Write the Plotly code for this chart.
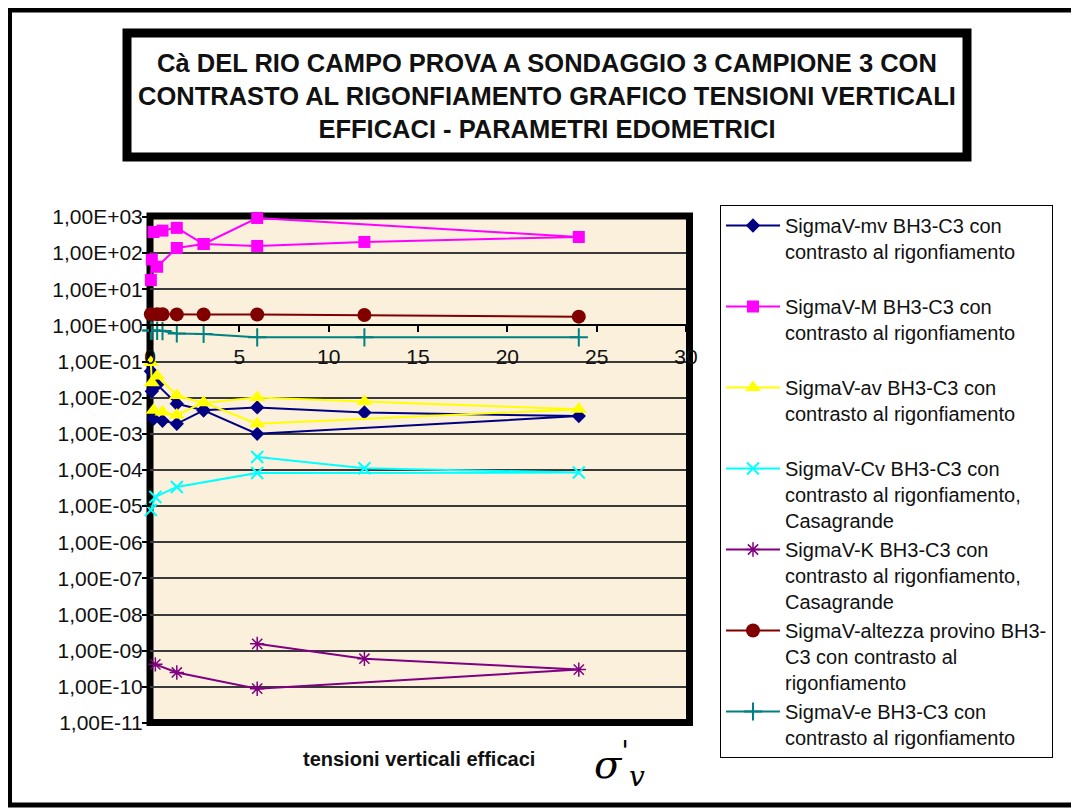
import plotly.graph_objects as go

# ---------------- data ----------------
Y_TICK_VALS = [1e3, 1e2, 1e1, 1e0, 1e-1, 1e-2, 1e-3, 1e-4, 1e-5, 1e-6, 1e-7, 1e-8, 1e-9, 1e-10, 1e-11]
Y_TICK_TEXT = ["1,00E+03", "1,00E+02", "1,00E+01", "1,00E+00", "1,00E-01", "1,00E-02",
               "1,00E-03", "1,00E-04", "1,00E-05", "1,00E-06", "1,00E-07", "1,00E-08",
               "1,00E-09", "1,00E-10", "1,00E-11"]
X_TICK_VALS = [0, 5, 10, 15, 20, 25, 30]

# load steps (loading then unloading) for mv, M, av
X_EDO = [0.05, 0.1, 0.4, 1.5, 3, 6, 12, 24, 6, 3, 1.5, 0.7, 0.2]
MV = [0.054, 0.015, 0.023, 0.0068, 0.0045, 0.0054, 0.0039, 0.0031, 0.00100, 0.0045, 0.0019, 0.0023, 0.0026]
M_EDO = [18, 67, 42, 139, 179, 158, 204, 280, 940, 179, 500, 420, 385]
AV = [0.095, 0.026, 0.04, 0.0115, 0.0072, 0.0102, 0.0078, 0.0048, 0.0019, 0.0074, 0.0033, 0.0040, 0.0045]

X_CV = [6, 12, 24, 6, 1.5, 0.3, 0.05]
CV = [2.3e-4, 1.12e-4, 8.5e-5, 8.3e-5, 3.4e-5, 1.8e-5, 7.8e-6]

X_K = [6, 12, 24, 6, 1.5, 0.3]
K = [1.55e-9, 6.0e-10, 3.0e-10, 8.9e-11, 2.5e-10, 4.2e-10]

X_H = [0.05, 0.4, 0.7, 1.5, 3, 6, 12, 24]
H_PROV = [2.04, 2.03, 2.03, 2.02, 2.02, 2.01, 1.94, 1.75]

X_E = [0.05, 0.1, 0.4, 0.7, 1.5, 3, 6, 12, 24]
E_VAL = [0.72, 0.72, 0.71, 0.70, 0.60, 0.58, 0.47, 0.47, 0.47]

NAMES = [
    "SigmaV-mv BH3-C3 con<br>contrasto al rigonfiamento<br>&nbsp;",
    "SigmaV-M BH3-C3 con<br>contrasto al rigonfiamento<br>&nbsp;",
    "SigmaV-av BH3-C3 con<br>contrasto al rigonfiamento<br>&nbsp;",
    "SigmaV-Cv BH3-C3 con<br>contrasto al rigonfiamento,<br>Casagrande",
    "SigmaV-K BH3-C3 con<br>contrasto al rigonfiamento,<br>Casagrande",
    "SigmaV-altezza provino BH3-<br>C3 con contrasto al<br>rigonfiamento",
    "SigmaV-e BH3-C3 con<br>contrasto al rigonfiamento",
]
TITLE = ("Cà DEL RIO CAMPO PROVA A SONDAGGIO 3 CAMPIONE 3 CON<br>"
         "CONTRASTO AL RIGONFIAMENTO GRAFICO TENSIONI VERTICALI<br>"
         "EFFICACI - PARAMETRI EDOMETRICI")
X_TITLE = "tensioni verticali efficaci"
SIGMA_LABEL = "<i>σ</i><sup>'</sup><sub><i>v</i></sub>"

# ---------------- layout geometry (page pixels) ----------------
OFF = 8                      # default page body margin
W, H = 1079 - OFF, 809 - OFF
PL, PR, PT, PB = 150, 686, 217, 723   # plot area in page pixels


def px(x):
    return (x - PL) / (PR - PL)


def py(y):
    return (PB - y) / (PB - PT)


FONT = "Liberation Sans, Arial, sans-serif"
SERIF = "DejaVu Serif, Liberation Serif, serif"

fig = go.Figure()

series = [
    (X_EDO, MV, NAMES[0], "#000080", dict(symbol="diamond", size=11, color="#000080")),
    (X_EDO, M_EDO, NAMES[1], "#FF00FF", dict(symbol="square", size=12, color="#FF00FF")),
    (X_EDO, AV, NAMES[2], "#FFFF00", dict(symbol="triangle-up", size=14, color="#FFFF00")),
    (X_CV, CV, NAMES[3], "#00FFFF", dict(symbol="x-thin-open", size=12, color="#00FFFF",
                                         line=dict(width=2, color="#00FFFF"))),
    (X_K, K, NAMES[4], "#800080", dict(symbol="asterisk-open", size=12, color="#800080",
                                       line=dict(width=1.5, color="#800080"))),
    (X_H, H_PROV, NAMES[5], "#800000", dict(symbol="circle", size=14, color="#800000")),
    (X_E, E_VAL, NAMES[6], "#008080", dict(symbol="cross-thin-open", size=13, color="#008080",
                                           line=dict(width=2, color="#008080"))),
]
for xs, ys, name, col, mk in series:
    fig.add_trace(go.Scatter(x=xs, y=ys, name=name, mode="lines+markers",
                             line=dict(color=col, width=2), marker=mk, cliponaxis=False))

fig.update_layout(
    width=W, height=H, autosize=False,
    margin=dict(l=PL - OFF, r=W - (PR - OFF), t=PT - OFF, b=H - (PB - OFF), pad=0),
    paper_bgcolor="white", plot_bgcolor="#FAF0DC",
    font=dict(family=FONT, size=20, color="#111111"),
    showlegend=True,
    legend=dict(x=px(720), y=py(205), xanchor="left", yanchor="top",
                bgcolor="white", bordercolor="black", borderwidth=1,
                font=dict(family=FONT, size=20, color="#111111"),
                valign="top", itemwidth=54, tracegroupgap=0, maxheight=600),
    xaxis=dict(range=[0, 30], anchor="free", position=11 / 14,
               tickvals=X_TICK_VALS, ticks="outside", ticklen=6, tickwidth=1.5,
               tickcolor="black", showline=True, linecolor="black", linewidth=1.5,
               showgrid=False, zeroline=False, ticklabelstandoff=7,
               tickfont=dict(family=FONT, size=21, color="#111111")),
    yaxis=dict(type="log", range=[-11, 3], tickvals=Y_TICK_VALS, ticktext=Y_TICK_TEXT,
               ticks="outside", ticklen=7, tickwidth=1.5, tickcolor="black",
               showgrid=True, gridcolor="#3a3a3a", gridwidth=1.6,
               showline=False, zeroline=False, ticklabelstandoff=-5,
               tickfont=dict(family=FONT, size=21, color="#111111")),
)

shapes = [
    # outer frame
    dict(type="rect", xref="paper", yref="paper", x0=px(9.5), x1=px(1076), y0=py(805), y1=py(10),
         line=dict(color="black", width=5), layer="above"),
    # title box
    dict(type="rect", xref="paper", yref="paper", x0=px(127), x1=px(967), y0=py(157), y1=py(33),
         line=dict(color="black", width=9), fillcolor="white", layer="below"),
    # plot area frame
    dict(type="rect", xref="paper", yref="paper", x0=px(150), x1=px(689.5), y0=py(722.5), y1=py(216),
         line=dict(color="black", width=7), layer="between"),
]
fig.update_layout(shapes=shapes)

annotations = [
    dict(text="<b>" + TITLE + "</b>", x=px(547), y=py(96), xref="paper", yref="paper",
         showarrow=False, xanchor="center", yanchor="middle", align="center",
         font=dict(family=FONT, size=25.5, color="#111111")),
    dict(text="<b>" + X_TITLE + "</b>", x=px(419), y=py(759), xref="paper", yref="paper",
         showarrow=False, xanchor="center", yanchor="middle",
         font=dict(family=FONT, size=20, color="#111111")),
    dict(text=SIGMA_LABEL, x=px(592), y=py(764), xref="paper", yref="paper",
         showarrow=False, xanchor="left", yanchor="middle",
         font=dict(family=SERIF, size=40, color="black")),
]
fig.update_layout(annotations=annotations)

fig.write_html("out.html")
